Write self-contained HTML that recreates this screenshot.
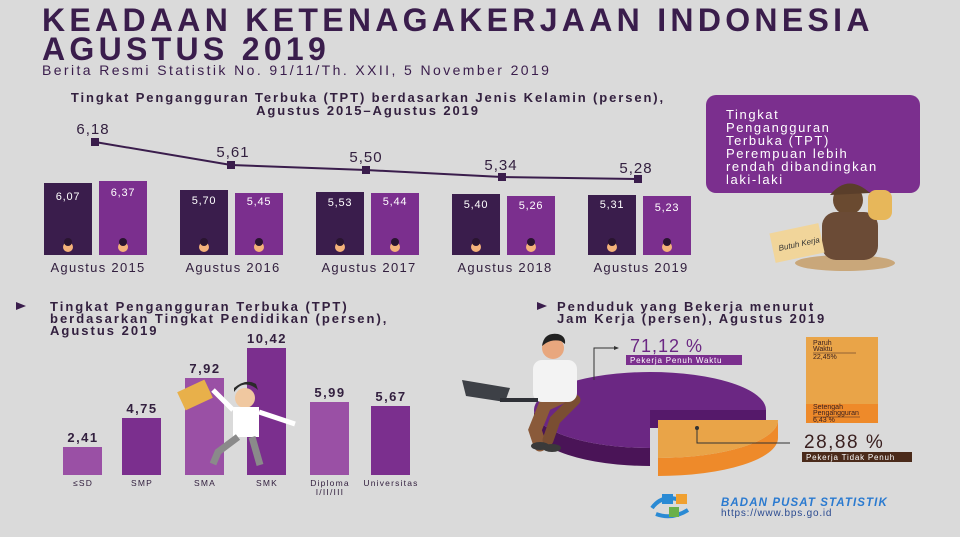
<!DOCTYPE html><html><head><style>
body{margin:0;width:960px;height:537px;background:#dadada;position:relative;overflow:hidden;font-family:"Liberation Sans",sans-serif;color:#33203f}
.a{position:absolute;white-space:nowrap}
</style></head><body>
<div class="a" style="left:42px;top:6px;font-size:32px;font-weight:bold;letter-spacing:4.3px;color:#3a1d4c;line-height:29px">KEADAAN KETENAGAKERJAAN INDONESIA<br>AGUSTUS 2019</div>
<div class="a" style="left:42px;top:62px;font-size:14px;letter-spacing:2.4px;color:#3a1d4c">Berita Resmi Statistik No. 91/11/Th. XXII, 5 November 2019</div>
<div class="a" style="left:40px;top:91px;width:656px;text-align:center;font-size:13px;letter-spacing:1.9px;font-weight:bold;line-height:13px">Tingkat Pengangguran Terbuka (TPT) berdasarkan Jenis Kelamin (persen),<br>Agustus 2015–Agustus 2019</div>
<svg class="a" style="left:0;top:0" width="960" height="537" font-family="Liberation Sans, sans-serif">
<g fill="#3a1d4c"><rect x="44" y="183" width="48" height="72"/><rect x="180" y="190" width="48" height="65"/><rect x="316" y="192" width="48" height="63"/><rect x="452" y="194" width="48" height="61"/><rect x="588" y="195" width="48" height="60"/></g>
<g fill="#7b2f8e"><rect x="99" y="181" width="48" height="74"/><rect x="235" y="193" width="48" height="62"/><rect x="371" y="193" width="48" height="62"/><rect x="507" y="196" width="48" height="59"/><rect x="643" y="196" width="48" height="59"/></g>
<g fill="#fff" font-size="11" letter-spacing="0.8" text-anchor="middle"><text x="68" y="200">6,07</text><text x="123" y="196">6,37</text><text x="204" y="204">5,70</text><text x="259" y="205">5,45</text><text x="340" y="206">5,53</text><text x="395" y="205">5,44</text><text x="476" y="208">5,40</text><text x="531" y="209">5,26</text><text x="612" y="208">5,31</text><text x="667" y="211">5,23</text></g>
<g fill="#f4b27a"><circle cx="68" cy="247" r="5"/><circle cx="123" cy="247" r="5"/><circle cx="204" cy="247" r="5"/><circle cx="259" cy="247" r="5"/><circle cx="340" cy="247" r="5"/><circle cx="395" cy="247" r="5"/><circle cx="476" cy="247" r="5"/><circle cx="531" cy="247" r="5"/><circle cx="612" cy="247" r="5"/><circle cx="667" cy="247" r="5"/></g>
<g fill="#2a1530"><circle cx="68" cy="242" r="4"/><circle cx="123" cy="242" r="4"/><circle cx="204" cy="242" r="4"/><circle cx="259" cy="242" r="4"/><circle cx="340" cy="242" r="4"/><circle cx="395" cy="242" r="4"/><circle cx="476" cy="242" r="4"/><circle cx="531" cy="242" r="4"/><circle cx="612" cy="242" r="4"/><circle cx="667" cy="242" r="4"/></g>
<polyline points="95,142 231,165 366,170 502,177 638,179" fill="none" stroke="#3a1d4c" stroke-width="2"/>
<g fill="#3a1d4c"><rect x="91" y="138" width="8" height="8"/><rect x="227" y="161" width="8" height="8"/><rect x="362" y="166" width="8" height="8"/><rect x="498" y="173" width="8" height="8"/><rect x="634" y="175" width="8" height="8"/></g>
<g fill="#33203f" font-size="15" letter-spacing="1" text-anchor="middle"><text x="93" y="134">6,18</text><text x="233" y="157">5,61</text><text x="366" y="162">5,50</text><text x="501" y="170">5,34</text><text x="636" y="173">5,28</text></g>
<g fill="#33203f" font-size="13" letter-spacing="1.3" text-anchor="middle"><text x="98" y="272">Agustus 2015</text><text x="233" y="272">Agustus 2016</text><text x="369" y="272">Agustus 2017</text><text x="505" y="272">Agustus 2018</text><text x="641" y="272">Agustus 2019</text></g>
<rect x="706" y="95" width="214" height="98" rx="10" fill="#7b2f8e"/>
<text fill="#fff" font-size="13" letter-spacing="1.6"><tspan x="726" y="119">Tingkat</tspan><tspan x="726" y="132">Pengangguran</tspan><tspan x="726" y="145">Terbuka (TPT)</tspan><tspan x="726" y="158">Perempuan lebih</tspan><tspan x="726" y="171">rendah dibandingkan</tspan><tspan x="726" y="184">laki-laki</tspan></text>
<ellipse cx="845" cy="263" rx="50" ry="8" fill="#c9a77a"/><circle cx="848" cy="200" r="15" fill="#6a4a30"/><path d="M830 195 q18 -22 40 -2" fill="#5a3e2a"/><rect x="822" y="212" width="56" height="48" rx="14" fill="#6b4b36"/><rect x="868" y="190" width="24" height="30" rx="8" fill="#e7b75a"/><rect x="772" y="228" width="50" height="30" fill="#f1d59a" transform="rotate(-12 797 243)"/><text x="778" y="247" font-size="8" font-style="italic" fill="#333" transform="rotate(-12 797 243)">Butuh Kerja</text>
<path d="M16 302 l10 4 -10 4z" fill="#3a1d4c"/>
<text fill="#33203f" font-size="13" font-weight="bold" letter-spacing="2"><tspan x="50" y="311">Tingkat Pengangguran Terbuka (TPT)</tspan><tspan x="50" y="323">berdasarkan Tingkat Pendidikan (persen),</tspan><tspan x="50" y="335">Agustus 2019</tspan></text>
<g><rect x="63" y="447" width="39" height="28" fill="#9a50a5"/><rect x="122" y="418" width="39" height="57" fill="#7b2f8e"/><rect x="185" y="378" width="39" height="97" fill="#9a50a5"/><rect x="247" y="348" width="39" height="127" fill="#7b2f8e"/><rect x="310" y="402" width="39" height="73" fill="#9a50a5"/><rect x="371" y="406" width="39" height="69" fill="#7b2f8e"/></g>
<g fill="#33203f" font-size="13" font-weight="bold" letter-spacing="1.5" text-anchor="middle"><text x="83" y="442">2,41</text><text x="142" y="413">4,75</text><text x="205" y="373">7,92</text><text x="267" y="343">10,42</text><text x="330" y="397">5,99</text><text x="391" y="401">5,67</text></g>
<g fill="#33203f" font-size="8.5" letter-spacing="1.2" text-anchor="middle"><text x="83" y="486">≤SD</text><text x="142" y="486">SMP</text><text x="205" y="486">SMA</text><text x="267" y="486">SMK</text><text x="330" y="486">Diploma</text><text x="330" y="495">I/II/III</text><text x="391" y="486">Universitas</text></g>
<rect x="180" y="385" width="30" height="20" fill="#e8b04a" transform="rotate(-25 195 395)"/>
<circle cx="245" cy="398" r="10" fill="#f0c8a0"/><path d="M234 392 q10 -14 24 -2 l-2 -6 q-10 -6 -22 4z" fill="#2a2a2a"/><rect x="233" y="407" width="26" height="30" fill="#fff"/><path d="M233 410 l-20 -20 M259 412 l36 12" stroke="#fff" stroke-width="5"/><path d="M238 437 l-20 15 l-5 12 M252 437 l8 28" stroke="#8a8a8a" stroke-width="7" fill="none"/>
<path d="M537 302 l10 4 -10 4z" fill="#3a1d4c"/>
<text fill="#33203f" font-size="13" font-weight="bold" letter-spacing="1.9"><tspan x="557" y="311">Penduduk yang Bekerja menurut</tspan><tspan x="557" y="323">Jam Kerja (persen), Agustus 2019</tspan></text>
<path d="M534 410 A116 38 0 0 0 650 448 L650 466 A116 38 0 0 1 534 428 Z" fill="#4a1457"/>
<rect x="650" y="410" width="116" height="18" fill="#55196a"/>
<path d="M650 410 L766 410 A116 38 0 1 0 650 448 Z" fill="#6b2783"/>
<path d="M778 420 A120 38 0 0 1 658 458 L658 476 A120 38 0 0 0 778 438 Z" fill="#ee8a2a"/>
<path d="M658 420 L778 420 A120 38 0 0 1 658 458 Z" fill="#e9a448"/>
<path d="M560 398 L545 405 L535 430 L540 445" stroke="#8a5a3a" stroke-width="13" fill="none" stroke-linecap="round"/>
<path d="M575 400 L555 420 L548 440" stroke="#7a4e32" stroke-width="11" fill="none" stroke-linecap="round"/>
<ellipse cx="540" cy="446" rx="9" ry="4" fill="#3a3a3a"/><ellipse cx="552" cy="448" rx="9" ry="4" fill="#3a3a3a"/>
<rect x="533" y="360" width="44" height="42" rx="9" fill="#f3f3f3"/>
<circle cx="553" cy="348" r="11" fill="#e8a77e"/><path d="M542 346 q2 -14 16 -12 q8 2 7 10 l-4 -3 q-8 -2 -15 2z" fill="#222"/>
<path d="M462 380 L510 388 L505 402 L466 396 Z" fill="#3d4046"/><rect x="500" y="398" width="38" height="4" fill="#2e3036"/>
<path d="M594 380 V348 H618" stroke="#333" fill="none"/><path d="M614 346 l5 2 -5 2z" fill="#333"/>
<path d="M697 428 V443 H790" stroke="#333" fill="none"/><circle cx="697" cy="428" r="2" fill="#333"/>
<text x="630" y="352" font-size="18" letter-spacing="1" fill="#6b2783">71,12 %</text>
<rect x="626" y="355" width="116" height="10" fill="#7b2f8e"/><text x="630" y="363" font-size="8" letter-spacing="0.8" fill="#fff">Pekerja Penuh Waktu</text>
<rect x="806" y="337" width="72" height="67" fill="#e9a448"/><rect x="806" y="404" width="72" height="19" fill="#ee8a2a"/>
<g font-size="7" fill="#3a2020"><text x="813" y="345">Paruh</text><text x="813" y="351">Waktu</text><line x1="813" y1="353" x2="856" y2="353" stroke="#3a2020" stroke-width="0.5"/><text x="813" y="359">22,45%</text><text x="813" y="409">Setengah</text><text x="813" y="415">Pengangguran</text><line x1="813" y1="417" x2="860" y2="417" stroke="#3a2020" stroke-width="0.5"/><text x="813" y="422">6,43 %</text></g>
<text x="804" y="448" font-size="19" letter-spacing="1.5" fill="#3a2020">28,88 %</text>
<rect x="802" y="452" width="110" height="10" fill="#4a2a1a"/><text x="806" y="460" font-size="8" letter-spacing="0.8" fill="#fff">Pekerja Tidak Penuh</text>
<path d="M652 508 q10 -14 28 -8 M656 514 q16 6 32 -4" stroke="#2a8ad4" stroke-width="4" fill="none"/><rect x="662" y="494" width="11" height="10" fill="#2a8ad4"/><rect x="676" y="494" width="11" height="10" fill="#f0a030"/><rect x="669" y="507" width="10" height="10" fill="#6ab04a"/>
<text x="721" y="506" font-size="11.5" font-weight="bold" font-style="italic" letter-spacing="1.1" fill="#2a7ad0">BADAN PUSAT STATISTIK</text>
<text x="721" y="516" font-size="10" letter-spacing="0.8" fill="#2a4a90">https://www.bps.go.id</text>
</svg>
</body></html>
